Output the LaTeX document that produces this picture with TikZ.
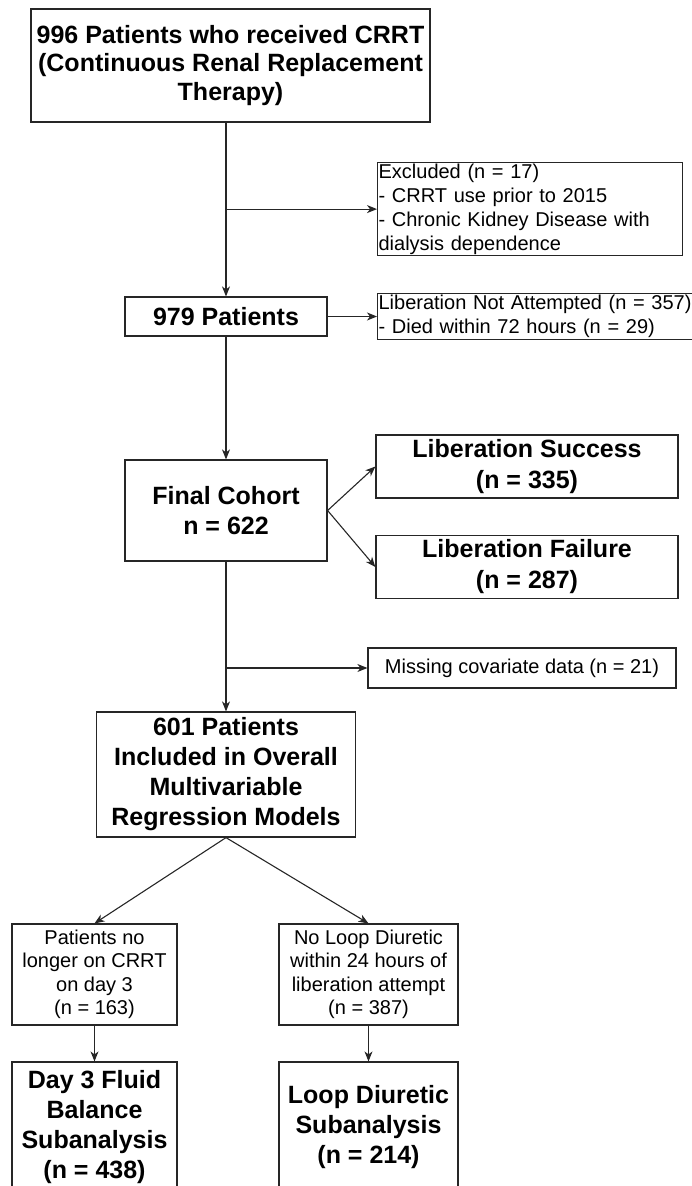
\documentclass[tikz,border=0pt]{standalone}
\usepackage{fontspec}
\setmainfont{Liberation Sans}
\usetikzlibrary{arrows.meta}

\begin{document}
\begin{tikzpicture}[x=1pt,y=-1pt,
    box/.style={draw=black!85, line width=1.2pt, inner sep=0pt, align=center},
    bigtxt/.style={font=\bfseries\fontsize{25}{30}\selectfont},
    smalltxt/.style={font=\fontsize{20}{24}\selectfont},
    arr/.style={draw=black!85, line width=1.1pt, -{Stealth[length=10pt,width=8pt,inset=3pt]}}]

    \useasboundingbox (0,0) rectangle (692,1186);
    \clip (0,0) rectangle (692,1186);

    % screening
    \node[box, font=\bfseries\fontsize{25}{28.5}\selectfont, minimum width=399pt, minimum height=113pt] (crrt) at (230.5,65.5) {996 Patients who received CRRT\\(Continuous Renal Replacement\\Therapy)};
    \node[box, bigtxt, minimum width=202pt, minimum height=39pt] (p979) at (226,316.5) {979 Patients};
    \node[box, smalltxt, align=left, anchor=north west, text width=303pt, inner xsep=1pt, minimum height=93pt] (excl) at (377,162) {Excluded (n = 17)\\- CRRT use prior to 2015\\- Chronic Kidney Disease with\\dialysis dependence};
    \node[box, smalltxt, align=left, anchor=north west, text width=318pt, inner xsep=1pt, minimum height=46pt] (noatt) at (377,293) {Liberation Not Attempted (n = 357)\\- Died within 72 hours (n = 29)};

    % cohort and outcome
    \node[box, bigtxt, minimum width=202pt, minimum height=101pt] (final) at (226,510.5) {Final Cohort\\n = 622};
    \node[box, font=\bfseries\fontsize{25}{31}\selectfont, minimum width=302pt, minimum height=63pt] (succ) at (527,466.5) {Liberation Success\\(n = 335)};
    \node[box, font=\bfseries\fontsize{25}{31}\selectfont, minimum width=302pt, minimum height=63pt] (fail) at (527,567) {Liberation Failure\\(n = 287)};
    \node[box, smalltxt, minimum width=308pt, minimum height=40pt] (miss) at (522,668) {Missing covariate data (n = 21)};
    \node[box, bigtxt, minimum width=259pt, minimum height=125pt] (p601) at (226,774.5) {601 Patients\\Included in Overall\\Multivariable\\Regression Models};

    % subanalyses
    \node[box, font=\fontsize{20}{23.5}\selectfont, minimum width=165pt, minimum height=101pt] (noCRRT) at (94.5,974.5) {Patients no\\longer on CRRT\\on day 3\\(n = 163)};
    \node[box, font=\fontsize{20}{23.5}\selectfont, minimum width=179pt, minimum height=101pt] (noLoop) at (368.5,974.5) {No Loop Diuretic\\within 24 hours of\\liberation attempt\\(n = 387)};
    \node[box, bigtxt, minimum width=165pt, minimum height=130pt] (fluid) at (94.5,1127) {Day 3 Fluid\\Balance\\Subanalysis\\(n = 438)};
    \node[box, bigtxt, minimum width=179pt, minimum height=130pt] (loop) at (368.5,1127) {Loop Diuretic\\Subanalysis\\(n = 214)};

    % arrows
    \draw[arr] (crrt.south -| p979.north) -- (p979.north);
    \draw[arr] (p979.north |- excl.west) -- (excl.west);
    \draw[arr] (p979.east) -- (p979.east -| noatt.west);
    \draw[arr] (p979) -- (final);
    \draw[arr] (final.east) -- (succ.west);
    \draw[arr] (final.east) -- (fail.west);
    \draw[arr] (final) -- (p601);
    \draw[arr] (final.south |- miss.west) -- (miss.west);
    \draw[arr] (p601.south) -- (noCRRT.north);
    \draw[arr] (p601.south) -- (noLoop.north);
    \draw[arr] (noCRRT) -- (fluid);
    \draw[arr] (noLoop) -- (loop);
\end{tikzpicture}
\end{document}
